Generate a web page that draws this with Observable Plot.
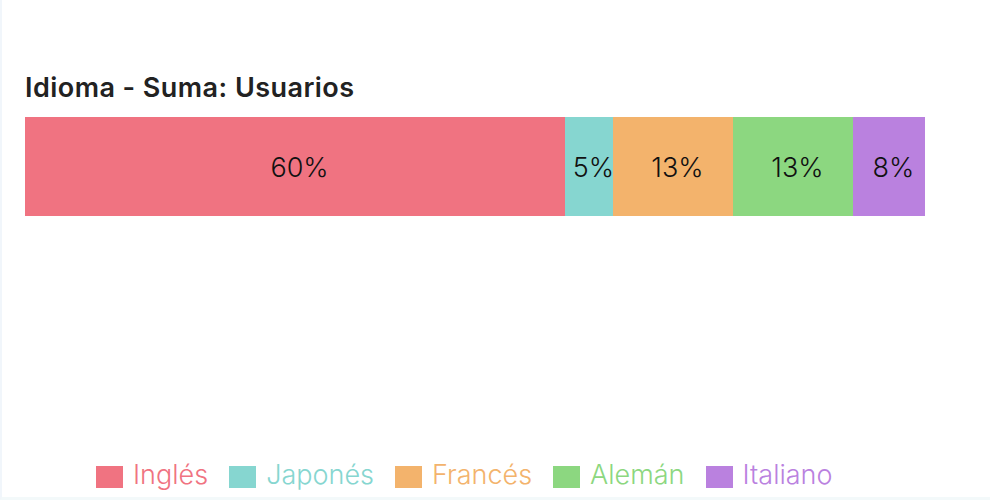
<!DOCTYPE html>
<html>
<head>
<meta charset="utf-8">
<script src="https://cdn.jsdelivr.net/npm/d3@7"></script>
<script src="https://cdn.jsdelivr.net/npm/@observablehq/plot@0.6"></script>
<style>
  html, body { margin: 0; padding: 0; background: #fff; }
  body { width: 990px; height: 502px; position: relative; overflow: hidden; font-family: Inter, "Noto Sans", sans-serif; }
  #frame { position: absolute; left: 0; top: 0; width: 988px; height: 497px; border-left: 2px solid #f1f6fb; border-bottom: 3px solid #f3f9fa; }
  #title { position: absolute; left: 25px; top: 74px; font-size: 27px; line-height: 1; font-weight: 600; color: #222; letter-spacing: 0.45px; white-space: nowrap; }
  #chart { position: absolute; left: 0; top: 0; }
  #legend { position: absolute; left: 96px; top: 459px; display: flex; align-items: center; font-size: 27px; line-height: 32px; font-weight: 300; white-space: nowrap; }
  .item { display: flex; align-items: center; margin-right: 21px; }
  .sw { width: 27px; height: 22px; margin-right: 10px; margin-top: 3px; }
</style>
</head>
<body>
<div id="frame"></div>
<div id="title">Idioma - Suma: Usuarios</div>
<div id="chart"></div>
<div id="legend"></div>
<script>
const idiomas = ["Inglés", "Japonés", "Francés", "Alemán", "Italiano"];
const usuarios = [45, 4, 10, 10, 6];
const colores = ["#F07381", "#86D6D0", "#F3B36C", "#8CD780", "#BA81DF"];

const total = d3.sum(usuarios);
const data = idiomas.map((idioma, i) => ({idioma, usuarios: usuarios[i], pct: usuarios[i] / total * 100}));

const plot = Plot.plot({
  width: 990,
  height: 230,
  marginLeft: 25,
  marginRight: 65,
  marginTop: 117,
  marginBottom: 14,
  x: {domain: [0, 100], axis: null},
  color: {domain: idiomas, range: colores},
  style: {background: "transparent"},
  marks: [
    Plot.barX(data, Plot.stackX({x: "pct", fill: "idioma", order: null})),
    Plot.text(data, Plot.stackX({
      x: "pct",
      z: "idioma",
      order: null,
      text: d => Math.round(d.pct) + "%",
      fill: "#111",
      fontSize: 27,
      dx: 4,
      dy: 1,
      fontFamily: "Inter, 'Noto Sans', sans-serif",
      fontWeight: 300
    }))
  ]
});
document.getElementById("chart").appendChild(plot);

const color = plot.scale("color");
const legend = document.getElementById("legend");
color.domain.forEach((name, i) => {
  const item = document.createElement("div");
  item.className = "item";
  const sw = document.createElement("div");
  sw.className = "sw";
  sw.style.background = color.range[i];
  const label = document.createElement("span");
  label.textContent = name;
  label.style.color = color.range[i];
  item.appendChild(sw);
  item.appendChild(label);
  legend.appendChild(item);
});
</script>
</body>
</html>
